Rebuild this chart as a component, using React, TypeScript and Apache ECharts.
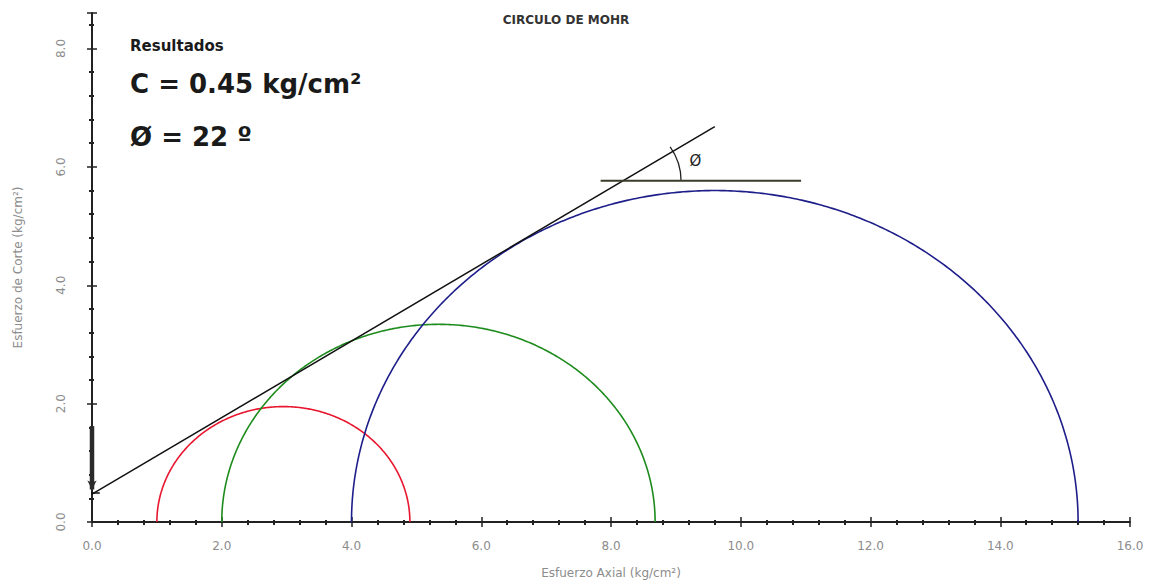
import React, { useEffect, useRef } from "react";
import * as echarts from "echarts";

// ---- data ----
const xMin = 0;
const xMax = 16;
const yMin = 0;
const yMax = 8.6;
const tickStep = 2;

// Mohr circles: minor (sigma3) and major (sigma1) principal stresses
const sigma3 = [1.0, 2.0, 4.0];
const sigma1 = [4.9, 8.68, 15.2];
const circleColors = ["#e8172f", "#1d8c1d", "#1e1e8a"];

// failure envelope (two end points)
const envelopeX = [0, 9.6];
const envelopeY = [0.47, 6.68];

// horizontal reference line for the friction angle
const refLineX = [7.84, 10.93];
const refLineY = [5.765, 5.765];

// short stub at the cohesion intercept
const stubX = [-0.23, 0.12];
const stubY = [0.49, 0.49];

// arrow on the shear axis
const arrowX = [0, 0];
const arrowY = [1.62, 0.55];

const titleText = "CIRCULO DE MOHR";
const resultLines = ["Resultados", "C = 0.45 kg/cm²", "Ø = 22 º"];
const phiLabel = "Ø";
const xName = "Esfuerzo Axial (kg/cm²)";
const yName = "Esfuerzo de Corte (kg/cm²)";

const FONT = "DejaVu Sans";
const AXIS_COLOR = "#222";
const LABEL_COLOR = "#8c8c8c";

export default function App() {
  const ref = useRef<HTMLDivElement>(null);

  useEffect(() => {
    if (!ref.current) return;
    const chart = echarts.init(ref.current, undefined, { renderer: "svg" });

    const mainX = {
      type: "value",
      min: xMin,
      max: xMax,
      interval: tickStep,
      position: "bottom",
      name: xName,
      nameLocation: "middle",
      nameGap: 45,
      nameTextStyle: { color: LABEL_COLOR, fontSize: 12, fontFamily: FONT },
      axisLine: { show: true, onZero: false, lineStyle: { color: AXIS_COLOR, width: 2 } },
      axisTick: { show: true, length: 5, lineStyle: { color: AXIS_COLOR, width: 1.5 } },
      minorTick: { show: true, splitNumber: 5, length: 3, lineStyle: { color: AXIS_COLOR, width: 2 } },
      axisLabel: {
        color: LABEL_COLOR,
        fontSize: 12,
        fontFamily: FONT,
        margin: 18,
        formatter: (v: number) => v.toFixed(1),
      },
      splitLine: { show: false },
    };
    const overlayX = {
      type: "value",
      min: xMin,
      max: xMax,
      interval: tickStep,
      position: "bottom",
      axisLine: { show: false, onZero: false },
      axisTick: { show: true, inside: true, length: 5, lineStyle: { color: AXIS_COLOR, width: 1.5 } },
      minorTick: { show: true, splitNumber: 5, length: 2, lineStyle: { color: AXIS_COLOR, width: 2 } },
      axisLabel: { show: false },
      splitLine: { show: false },
    };
    const mainY = {
      type: "value",
      min: yMin,
      max: yMax,
      interval: tickStep,
      position: "left",
      name: yName,
      nameLocation: "middle",
      nameGap: 68,
      nameTextStyle: { color: LABEL_COLOR, fontSize: 12, fontFamily: FONT, padding: [0, 0, 0, 0] },
      axisLine: { show: true, onZero: false, lineStyle: { color: AXIS_COLOR, width: 2 } },
      axisTick: { show: true, length: 5, lineStyle: { color: AXIS_COLOR, width: 1.5 } },
      minorTick: { show: true, splitNumber: 5, length: 3, lineStyle: { color: AXIS_COLOR, width: 2 } },
      axisLabel: {
        color: LABEL_COLOR,
        fontSize: 12,
        fontFamily: FONT,
        rotate: 90,
        margin: 25,
        formatter: (v: number) => (v > 8.01 ? "" : v.toFixed(1)),
      },
      splitLine: { show: false },
    };
    const overlayY = {
      type: "value",
      min: yMin,
      max: yMax,
      interval: tickStep,
      position: "left",
      axisLine: { show: false, onZero: false },
      axisTick: { show: true, inside: true, length: 5, lineStyle: { color: AXIS_COLOR, width: 1.5 } },
      minorTick: { show: true, splitNumber: 5, length: 2, lineStyle: { color: AXIS_COLOR, width: 2 } },
      axisLabel: { show: false },
      splitLine: { show: false },
    };

    const circleData = sigma3.map((s3, i) => [s3, sigma1[i], i]);

    const option: any = {
      animation: false,
      backgroundColor: "#ffffff",
      grid: { left: 92, right: 28, top: 13, bottom: 60, containLabel: false },
      xAxis: [mainX, overlayX],
      yAxis: [mainY, overlayY],
      series: [
        {
          type: "custom",
          name: "circulos",
          xAxisIndex: 0,
          yAxisIndex: 0,
          data: circleData,
          encode: { x: 0, y: 1 },
          silent: true,
          renderItem: (params: any, api: any) => {
            const s3 = api.value(0);
            const s1 = api.value(1);
            const idx = api.value(2);
            const c = (s3 + s1) / 2;
            const r = (s1 - s3) / 2;
            const pts: number[][] = [];
            for (let k = 0; k <= 360; k++) {
              const t = (Math.PI * k) / 360;
              pts.push(api.coord([c + r * Math.cos(t), r * Math.sin(t)]));
            }
            return {
              type: "polyline",
              shape: { points: pts },
              style: { stroke: circleColors[idx], fill: "none", lineWidth: 1.6 },
            };
          },
        },
        {
          type: "line",
          name: "envolvente",
          data: envelopeX.map((x, i) => [x, envelopeY[i]]),
          symbol: "none",
          clip: false,
          lineStyle: { color: "#111", width: 1.5 },
        },
        {
          type: "line",
          name: "flecha",
          data: arrowX.map((x, i) => [x, arrowY[i]]),
          symbol: "none",
          clip: false,
          z: 5,
          lineStyle: { color: "#2a2a2a", width: 4.5 },
          markLine: {
            silent: true,
            symbol: ["none", "arrow"],
            symbolSize: [7, 9],
            label: { show: false },
            lineStyle: { color: "#2a2a2a", width: 2, type: "solid" },
            data: [
              [
                { coord: [arrowX[0], arrowY[0]] },
                { coord: [arrowX[1], arrowY[1]] },
              ],
            ],
          },
        },
        {
          type: "line",
          name: "referencia",
          data: refLineX.map((x, i) => [x, refLineY[i]]),
          symbol: "none",
          clip: false,
          lineStyle: { color: "#3a3d2a", width: 2 },
        },
        {
          type: "line",
          name: "intercepto",
          data: stubX.map((x, i) => [x, stubY[i]]),
          symbol: "none",
          clip: false,
          z: 6,
          lineStyle: { color: "#111", width: 1.5 },
        },
      ],
    };
    chart.setOption(option);

    // friction-angle arc, placed from the data through the chart's scales
    const slope = (envelopeY[1] - envelopeY[0]) / (envelopeX[1] - envelopeX[0]);
    const xi = envelopeX[0] + (refLineY[0] - envelopeY[0]) / slope;
    const P = chart.convertToPixel({ xAxisIndex: 0, yAxisIndex: 0 }, [xi, refLineY[0]]) as number[];
    const P2 = chart.convertToPixel({ xAxisIndex: 0, yAxisIndex: 0 }, [envelopeX[1], envelopeY[1]]) as number[];
    const ang = Math.atan2(P[1] - P2[1], P2[0] - P[0]);
    const R = 58;

    chart.setOption({
      graphic: [
        {
          type: "text",
          x: 566,
          y: 20,
          style: {
            text: titleText,
            font: `bold 12px "${FONT}"`,
            fill: "#333",
            align: "center",
            verticalAlign: "middle",
          },
        },
        {
          type: "text",
          x: 130,
          y: 46,
          style: {
            text: resultLines[0],
            font: `bold 15px "${FONT}"`,
            fill: "#1a1a1a",
            verticalAlign: "middle",
          },
        },
        {
          type: "text",
          x: 130,
          y: 84,
          style: {
            text: resultLines[1],
            font: `bold 26px "${FONT}"`,
            fill: "#1a1a1a",
            verticalAlign: "middle",
          },
        },
        {
          type: "text",
          x: 130,
          y: 137,
          style: {
            text: resultLines[2],
            font: `bold 26px "${FONT}"`,
            fill: "#1a1a1a",
            verticalAlign: "middle",
          },
        },
        {
          type: "arc",
          shape: {
            cx: P[0],
            cy: P[1],
            r: R,
            startAngle: -(ang + 0.09),
            endAngle: 0,
            clockwise: true,
          },
          style: { stroke: "#222", lineWidth: 1.3, fill: "none" },
        },
        {
          type: "text",
          x: P[0] + (R + 17) * Math.cos(ang / 2),
          y: P[1] - (R + 17) * Math.sin(ang / 2),
          style: {
            text: phiLabel,
            font: `15px "${FONT}"`,
            fill: "#222",
            align: "center",
            verticalAlign: "middle",
          },
        },
      ],
    });

    return () => chart.dispose();
  }, []);

  return (
    <div
      ref={ref}
      style={{ position: "fixed", left: 0, top: 0, width: 1158, height: 584, background: "#fff" }}
    />
  );
}
